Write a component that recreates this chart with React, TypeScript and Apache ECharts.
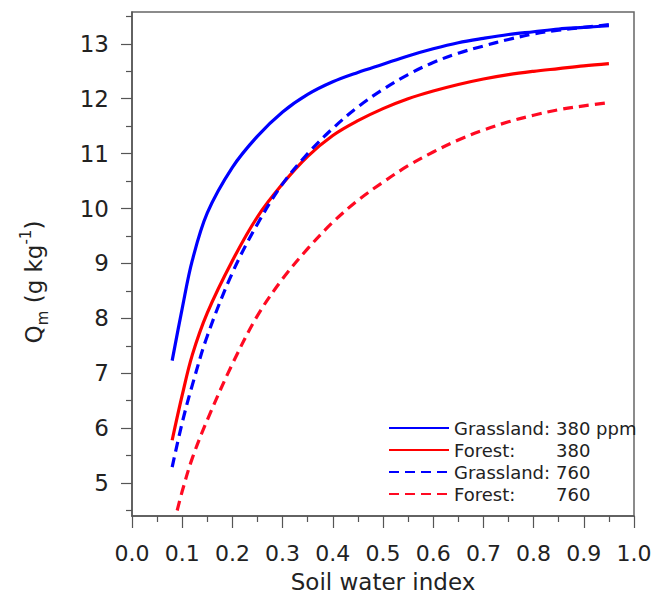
import React, { useEffect, useRef } from "react";
import * as echarts from "echarts";

// Soil water index (x) sampled along each curve
const swi = [0.08, 0.10, 0.12, 0.15, 0.20, 0.25, 0.30, 0.35, 0.40, 0.45, 0.50, 0.55, 0.60, 0.65, 0.70, 0.75, 0.80, 0.85, 0.90, 0.95];
const swiForest760 = [0.09, 0.10, 0.12, 0.15, 0.20, 0.25, 0.30, 0.35, 0.40, 0.45, 0.50, 0.55, 0.60, 0.65, 0.70, 0.75, 0.80, 0.85, 0.90, 0.95];

// Qm (g kg-1)
const grassland380 = [7.23, 8.18, 9.05, 9.92, 10.75, 11.32, 11.76, 12.08, 12.31, 12.48, 12.63, 12.78, 12.91, 13.02, 13.10, 13.17, 13.22, 13.27, 13.30, 13.33];
const forest380 = [5.78, 6.60, 7.33, 8.10, 9.05, 9.85, 10.45, 10.95, 11.33, 11.60, 11.82, 12.00, 12.14, 12.26, 12.36, 12.44, 12.50, 12.55, 12.60, 12.64];
const grassland760 = [5.29, 6.10, 6.78, 7.68, 8.83, 9.72, 10.45, 11.00, 11.46, 11.85, 12.17, 12.44, 12.66, 12.83, 12.96, 13.08, 13.18, 13.25, 13.30, 13.35];
const forest760 = [4.50, 4.85, 5.45, 6.15, 7.17, 8.05, 8.72, 9.27, 9.75, 10.15, 10.48, 10.78, 11.03, 11.25, 11.43, 11.58, 11.70, 11.80, 11.87, 11.93];

const seriesNames = ["Grassland: 380 ppm", "Forest: 380", "Grassland: 760", "Forest: 760"];

const yMajorTicks = [5, 6, 7, 8, 9, 10, 11, 12, 13];
const yMinorTicks = [4.5, 5.5, 6.5, 7.5, 8.5, 9.5, 10.5, 11.5, 12.5, 13.5];

const FONT = "DejaVu Sans";
const AXIS_COLOR = "#555";
const TEXT_COLOR = "#222";

function pairs(xs: number[], ys: number[]) {
  return xs.map((x, i) => [x, ys[i]]);
}

export default function App() {
  const ref = useRef<HTMLDivElement>(null);

  useEffect(() => {
    if (!ref.current) return;
    const chart = echarts.init(ref.current, undefined, { renderer: "svg" });

    const lineSeries = (name: string, data: number[][], color: string, dashed: boolean) => ({
      name,
      type: "line",
      data,
      showSymbol: false,
      symbol: "none",
      smooth: 0.35,
      clip: true,
      lineStyle: {
        color,
        width: 3.2,
        type: dashed ? [10, 6] : "solid",
      },
      itemStyle: { color },
    });

    chart.setOption({
      animation: false,
      backgroundColor: "#fff",
      grid: {
        left: 132,
        right: 19,
        top: 12,
        bottom: 88,
        show: true,
        borderColor: "#666",
        borderWidth: 1.5,
        containLabel: false,
        outerBoundsMode: "none",
      },
      legend: {
        orient: "vertical",
        left: 388,
        top: 418,
        padding: 0,
        itemWidth: 60,
        itemHeight: 14,
        itemGap: 2,
        data: seriesNames,
        itemStyle: { opacity: 0 },
        textStyle: {
          fontFamily: FONT,
          fontSize: 18,
          color: TEXT_COLOR,
          lineHeight: 20,
          rich: {
            a: { width: 102, fontFamily: FONT, fontSize: 18, color: TEXT_COLOR },
            b: { fontFamily: FONT, fontSize: 18, color: TEXT_COLOR },
          },
        },
        formatter: (name: string) => {
          const idx = name.indexOf(":");
          return `{a|${name.slice(0, idx + 1)}}{b|${name.slice(idx + 2)}}`;
        },
      },
      xAxis: {
        type: "value",
        min: 0,
        max: 1,
        interval: 0.1,
        name: "Soil water index",
        nameLocation: "middle",
        nameGap: 54,
        nameTextStyle: { fontFamily: FONT, fontSize: 23, color: TEXT_COLOR },
        axisLine: { show: true, lineStyle: { color: AXIS_COLOR, width: 1.5 } },
        axisTick: { show: true, inside: false, length: 12, lineStyle: { color: AXIS_COLOR, width: 1.2 } },
        minorTick: { show: true, splitNumber: 2, length: 6, lineStyle: { color: AXIS_COLOR, width: 1.2 } },
        splitLine: { show: false },
        minorSplitLine: { show: false },
        axisLabel: {
          fontFamily: FONT,
          fontSize: 22,
          color: TEXT_COLOR,
          margin: 26,
          formatter: (v: number) => v.toFixed(1),
        },
      },
      yAxis: [
        {
          type: "value",
          min: 4.4,
          max: 13.58,
          position: "left",
          name: "{q|Q}{sub|m}{t| (g kg}{sup|-1}{t|)}",
          nameLocation: "middle",
          nameRotate: 90,
          nameGap: 82,
          nameTextStyle: {
            fontFamily: FONT,
            color: TEXT_COLOR,
            padding: [0, 36, 0, 0],
            rich: {
              q: { fontFamily: FONT, fontSize: 23, lineHeight: 32, color: TEXT_COLOR },
              t: { fontFamily: FONT, fontSize: 23, lineHeight: 32, color: TEXT_COLOR },
              sub: { fontFamily: FONT, fontSize: 15, lineHeight: 15, verticalAlign: "bottom", color: TEXT_COLOR },
              sup: { fontFamily: FONT, fontSize: 15, lineHeight: 15, verticalAlign: "top", color: TEXT_COLOR },
            },
          },
          axisLine: { show: true, lineStyle: { color: AXIS_COLOR, width: 1.5 } },
          axisTick: {
            show: true,
            inside: false,
            length: 11,
            customValues: yMajorTicks,
            lineStyle: { color: AXIS_COLOR, width: 1.2 },
          },
          splitLine: { show: false },
          axisLabel: {
            fontFamily: FONT,
            fontSize: 23,
            color: TEXT_COLOR,
            margin: 23,
            customValues: yMajorTicks,
          },
        },
        {
          type: "value",
          min: 4.4,
          max: 13.58,
          position: "left",
          offset: 0,
          axisLine: { show: false },
          axisTick: {
            show: true,
            inside: false,
            length: 6,
            customValues: yMinorTicks,
            lineStyle: { color: AXIS_COLOR, width: 1.2 },
          },
          axisLabel: { show: false },
          splitLine: { show: false },
        },
      ],
      series: [
        lineSeries(seriesNames[0], pairs(swi, grassland380), "#0000ff", false),
        lineSeries(seriesNames[1], pairs(swi, forest380), "#ff0000", false),
        lineSeries(seriesNames[2], pairs(swi, grassland760), "#0000ff", true),
        lineSeries(seriesNames[3], pairs(swiForest760, forest760), "#ff0a22", true),
      ],
    });

    return () => chart.dispose();
  }, []);

  return (
    <div
      ref={ref}
      style={{ position: "fixed", left: 0, top: 0, width: 653, height: 604, background: "#fff" }}
    />
  );
}
